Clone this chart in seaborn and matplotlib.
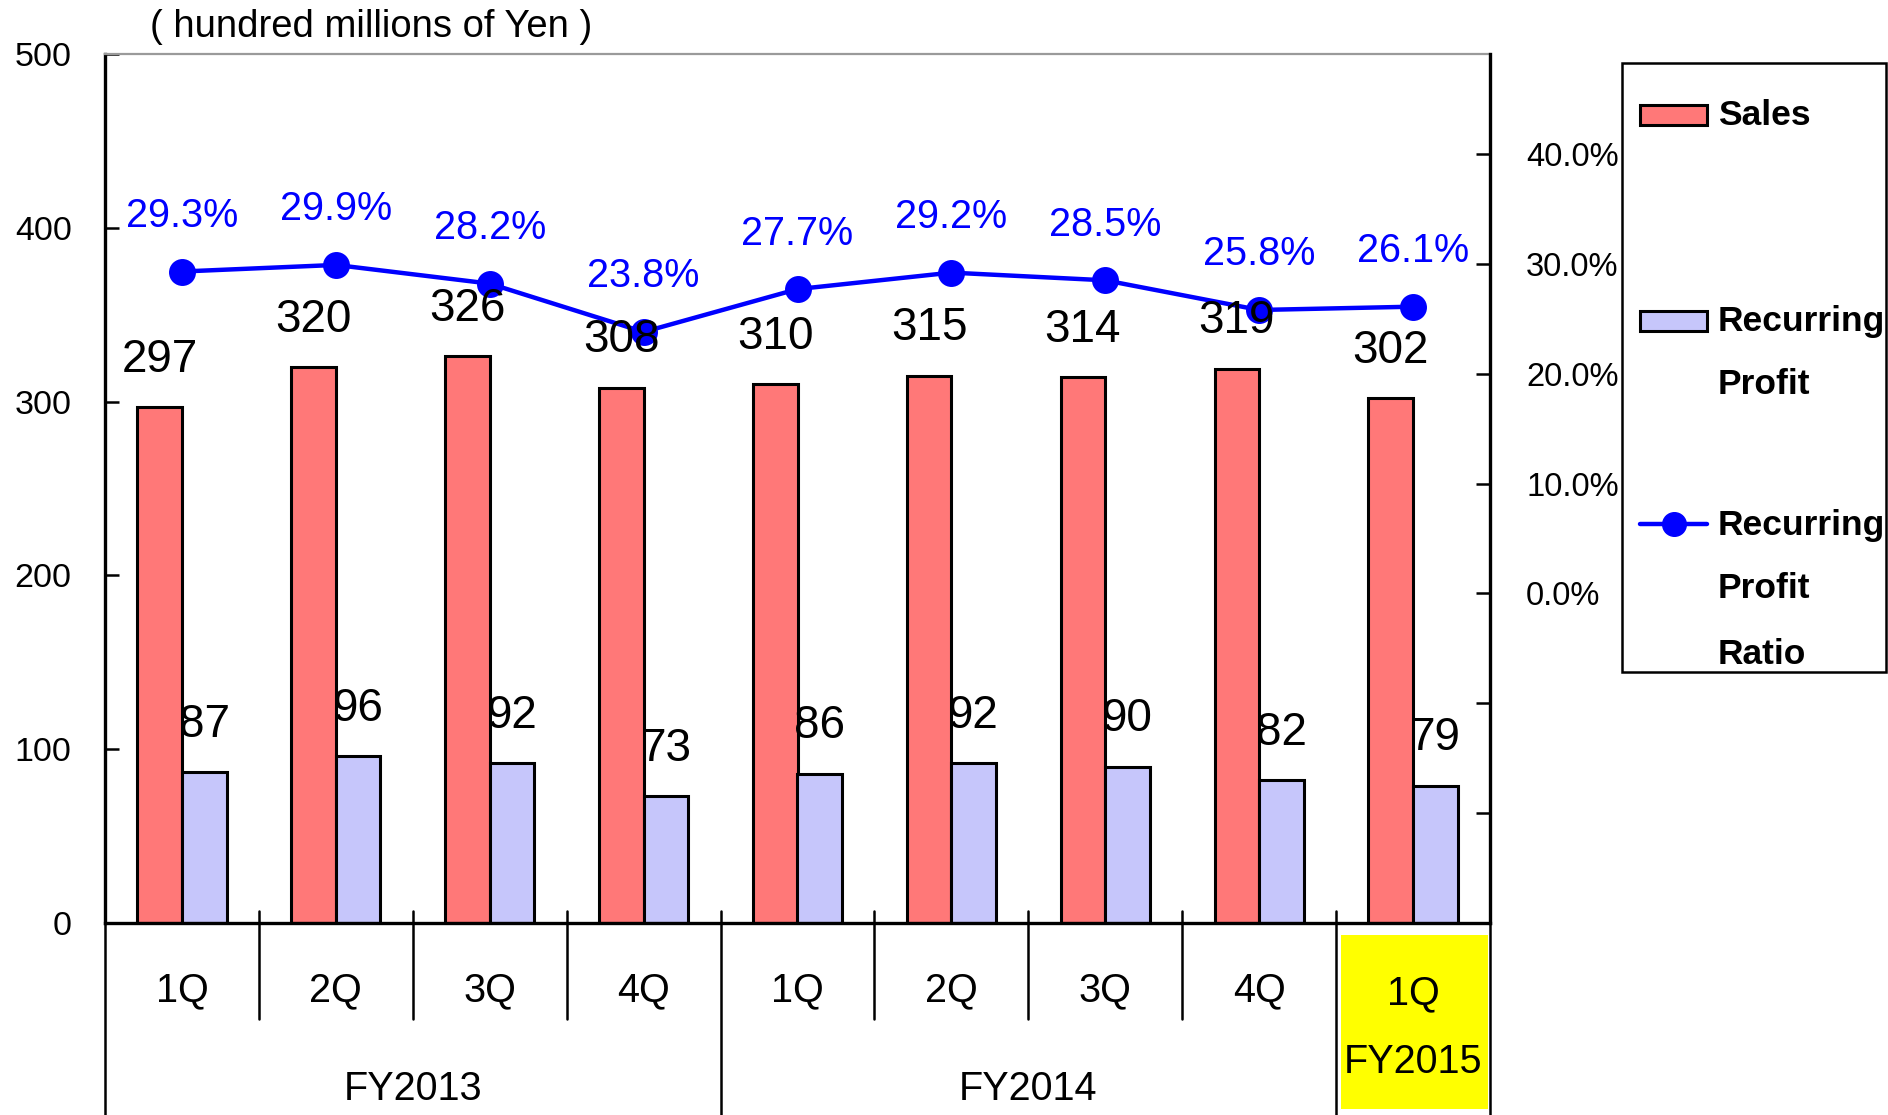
import numpy as np
import pandas as pd
import matplotlib
matplotlib.use("Agg")
import matplotlib.pyplot as plt
import seaborn as sns
from matplotlib.patches import Rectangle
from matplotlib.lines import Line2D

# Data
periods = ["FY2013 1Q", "FY2013 2Q", "FY2013 3Q", "FY2013 4Q",
           "FY2014 1Q", "FY2014 2Q", "FY2014 3Q", "FY2014 4Q", "FY2015 1Q"]
quarters = ["1Q", "2Q", "3Q", "4Q", "1Q", "2Q", "3Q", "4Q", "1Q"]
years = ["FY2013"] * 4 + ["FY2014"] * 4 + ["FY2015"]
sales = [297, 320, 326, 308, 310, 315, 314, 319, 302]
recurring_profit = [87, 96, 92, 73, 86, 92, 90, 82, 79]
profit_ratio = [29.3, 29.9, 28.2, 23.8, 27.7, 29.2, 28.5, 25.8, 26.1]
series_names = ["Sales", "Recurring Profit"]

df = pd.DataFrame({
    "period": periods * 2,
    "series": [series_names[0]] * len(periods) + [series_names[1]] * len(periods),
    "value": sales + recurring_profit,
})

red = "#FF7878"
lav = "#C6C6FB"

sns.set_theme(style="white")
plt.rcParams["font.family"] = ["Liberation Sans", "DejaVu Sans"]
plt.rcParams["text.color"] = "black"
plt.rcParams["xtick.color"] = "black"
plt.rcParams["ytick.color"] = "black"

fig = plt.figure(figsize=(18.88, 11.15), dpi=100)
ax = fig.add_axes([105 / 1888, 1 - 923 / 1115, 1385 / 1888, 869 / 1115])
ax2 = ax.twinx()

sns.barplot(data=df, x="period", y="value", hue="series", order=periods,
            hue_order=series_names, palette=[red, lav], width=0.58, gap=0,
            saturation=1, edgecolor="black", linewidth=2.2, legend=False, ax=ax)

sns.pointplot(x=periods, y=profit_ratio, order=periods, ax=ax2, color="#0000FF",
              markers="o", markersize=17, linewidth=3.2, errorbar=None)

ax.set_xlim(-0.5, len(periods) - 0.5)
ax.set_ylim(0, 500)
ax.set_yticks(range(0, 501, 100))
ax2.set_ylim(-30, 49.1)
ax2.set_yticks(range(-30, 41, 10))
ax2.set_yticklabels([f"{t:.1f}%" if t >= 0 else "" for t in range(-30, 41, 10)])
for a in (ax, ax2):
    a.set_xlabel("")
    a.set_ylabel("")

ax.tick_params(axis="y", left=True, direction="in", length=10, width=1.8,
               labelsize=24.5, pad=24, colors="black")
ax.tick_params(axis="x", bottom=False, labelbottom=False)
ax2.tick_params(axis="y", right=True, direction="in", length=10, width=1.8,
                labelsize=23.5, pad=26, colors="black")

for s in ["left", "bottom"]:
    ax.spines[s].set_color("black")
    ax.spines[s].set_linewidth(2.4)
ax.spines["top"].set_color("#9a9a9a")
ax.spines["top"].set_linewidth(1.6)
ax.spines["right"].set_visible(False)
for s in ["left", "bottom", "top"]:
    ax2.spines[s].set_visible(False)
ax2.spines["right"].set_color("black")
ax2.spines["right"].set_linewidth(2.4)

# value labels (drawn on ax2 so they sit above the ratio line)
for container, values in zip(ax.containers, [sales, recurring_profit]):
    for bar, v in zip(container, values):
        xc = bar.get_x() + bar.get_width() / 2
        ax2.annotate(str(v), xy=(xc, v), xycoords=ax.transData,
                     xytext=(0, 34), textcoords="offset points",
                     ha="center", va="center", fontsize=33, color="black", zorder=6)

for i, r in enumerate(profit_ratio):
    ax2.annotate(f"{r:.1f}%", xy=(i, r), xytext=(0, 40), textcoords="offset points",
                 ha="center", va="center", fontsize=28.5, color="#0000FF", zorder=6)

# category table below the axis
tr = ax.get_xaxis_transform()
n = len(periods)
for i in range(n + 1):
    xb = i - 0.5
    year_edge = i == 0 or i == n or years[i] != years[i - 1]
    y_low = -0.221 if year_edge else -0.1105
    ax.plot([xb, xb], [0.0138, y_low], transform=tr, clip_on=False,
            color="black", lw=1.8, zorder=3)

last = n - 1
ax.add_patch(Rectangle((last - 0.468, -0.214), 0.958, 0.2, transform=tr,
                       clip_on=False, facecolor="#FFFF00", edgecolor="none", zorder=1))

for i, q in enumerate(quarters):
    y = -0.0806 if years[i] == years[-1] else -0.0775
    ax.text(i, y, q, transform=tr, ha="center", va="center", fontsize=28.5)

for yr in dict.fromkeys(years):
    idx = [i for i, y in enumerate(years) if y == yr]
    xc = (idx[0] + idx[-1]) / 2
    y = -0.16 if yr == years[-1] else -0.191
    ax.text(xc, y, yr, transform=tr, ha="center", va="center", fontsize=28.5)

fig.text(150 / 1888, 1 - 27 / 1115, "( hundred millions of Yen )",
         fontsize=27.5, ha="left", va="center")

# legend box
ft = fig.transFigure
fig.patches.append(Rectangle((1622 / 1888, 1 - 672 / 1115), 264 / 1888, 609 / 1115,
                             transform=ft, facecolor="white", edgecolor="black", lw=1.8))
hx, hw, hh = 1640 / 1888, 67 / 1888, 20 / 1115
fig.patches.append(Rectangle((hx, 1 - 125 / 1115), hw, hh, transform=ft,
                             facecolor=red, edgecolor="black", lw=2.2))
fig.patches.append(Rectangle((hx, 1 - 331 / 1115), hw, hh, transform=ft,
                             facecolor=lav, edgecolor="black", lw=2.2))
ly = 1 - 524 / 1115
fig.lines.append(Line2D([hx, hx + hw], [ly, ly], transform=ft, color="#0000FF", lw=3.2))
fig.lines.append(Line2D([hx + hw / 2], [ly], transform=ft, color="#0000FF",
                        marker="o", markersize=17))

tx = 1718 / 1888
for txt, ypx in [("Sales", 116), ("Recurring", 321), ("Profit", 384),
                 ("Recurring", 525), ("Profit", 589), ("Ratio", 654)]:
    fig.text(tx, 1 - ypx / 1115, txt, fontsize=25.5, fontweight="bold",
             ha="left", va="center")

fig.savefig("out.png", dpi=100)
